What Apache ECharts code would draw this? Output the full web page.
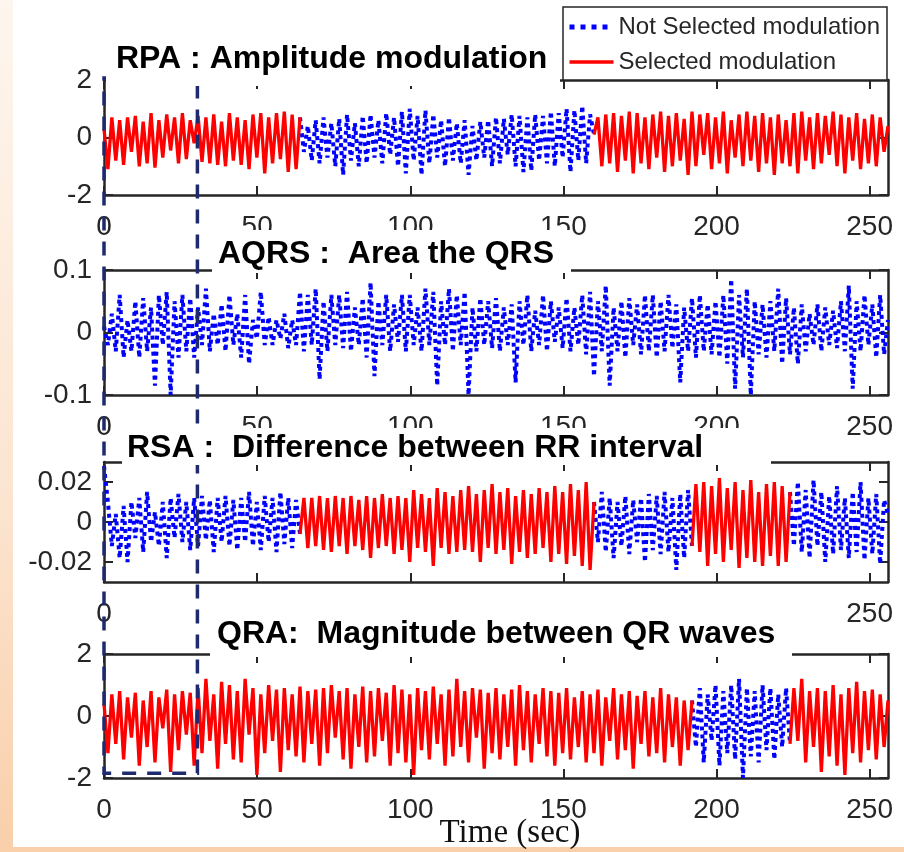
<!DOCTYPE html>
<html><head><meta charset="utf-8">
<script src="https://cdn.jsdelivr.net/npm/echarts@6/dist/echarts.min.js"></script>
<style>
html,body{margin:0;padding:0;width:904px;height:852px;overflow:hidden;background:linear-gradient(to bottom,#fdf6ee 0%,#fce4cf 60%,#f9cfaa 100%);}
#bg{position:absolute;left:13px;top:0;width:891px;height:847px;background:#fff;}
#chart{position:absolute;left:0;top:0;width:904px;height:852px;}
</style></head><body><div id="bg"></div><div id="chart"></div>
<script>
// ---------------- data ----------------
const sampleStep = 1.28; // seconds between samples (201 samples -> 0..256 s)
const xTickValues = [0, 50, 100, 150, 200, 250];
const legendNames = ['Not Selected modulation', 'Selected modulation'];
const panelTitles = ['RPA : Amplitude modulation', 'AQRS :  Area the QRS', 'RSA :  Difference between RR interval', 'QRA:  Magnitude between QR waves'];
const xAxisName = 'Time (sec)';
const windowSeconds = [0, 30.5];

const rpaYTicks = [-2, 0, 2];
const aqrsYTicks = [-0.1, 0, 0.1];
const rsaYTicks = [-0.02, 0, 0.02];
const qraYTicks = [-2, 0, 2];

const rpaSelected = [[0, 64], [160, 256]];
const aqrsSelected = [];
const rsaSelected = [[64, 160], [192, 224]];
const qraSelected = [[0, 192], [224, 256]];

const rpa = [
 0.3,-1.1,0.7,-0.8,0.6,-0.95,0.7,-0.5,0.75,-1.0,
 0.55,-0.9,0.85,-1.05,0.6,-0.7,0.8,-0.45,0.7,-0.9,
 0.85,-0.75,0.6,-0.2,0.75,-0.85,0.7,-0.9,0.8,-0.95,
 0.55,-1.0,0.85,-0.8,0.7,-0.95,0.6,-1.1,0.8,-0.7,
 0.85,-1.25,0.7,-0.9,0.85,-0.75,0.9,-1.2,0.8,-1.1,
 0.7,-0.5,0.4,-0.8,0.6,-0.9,0.7,-0.7,0.5,-1.0,
 0.65,-1.3,0.8,-0.8,0.5,-1.0,0.75,-0.9,0.8,-0.7,
 0.6,-0.9,0.85,-0.6,0.7,-1.0,0.9,-1.25,1.0,-0.8,
 0.75,-1.3,0.95,-0.9,0.8,-0.7,0.6,-1.0,0.7,-0.8,
 0.5,-0.9,0.6,-1.3,0.4,-0.8,0.55,-0.7,0.6,-1.0,
 0.7,-0.9,0.65,-0.6,0.8,-1.0,0.75,-1.2,0.7,-1.15,
 0.8,-0.8,0.75,-0.9,0.9,-1.0,0.85,-0.7,1.0,-1.2,
 0.95,-0.8,1.1,-0.9,0.8,0.1,0.7,-1.0,0.8,-0.9,
 0.85,-1.2,0.75,-0.8,0.9,-1.25,0.85,-0.9,0.7,-1.1,
 0.8,-0.7,0.9,-1.2,0.75,-1.0,0.85,-0.8,0.65,-1.3,
 0.9,-1.0,0.8,-0.6,0.85,-1.1,0.7,-0.9,0.9,-1.25,
 0.6,-0.7,0.8,-1.0,0.9,-0.8,0.75,-1.2,0.85,-0.9,
 0.7,-1.3,0.8,-0.9,0.6,-1.0,0.85,-1.25,0.9,-0.8,
 0.7,-1.1,0.85,-0.9,0.75,-0.6,0.9,-1.0,0.8,-1.25,
 0.7,-0.8,0.85,-1.1,0.65,-0.9,0.8,-1.0,0.7,-0.5,
 0.4
];
const aqrs = [
 0.01,-0.02,0.03,-0.03,0.06,-0.04,0.02,-0.03,0.05,-0.04,
 0.055,-0.03,0.04,-0.085,0.06,-0.02,0.065,-0.1,0.05,-0.04,
 0.06,-0.03,0.055,-0.04,0.04,-0.02,0.07,-0.03,0.03,-0.02,
 0.045,-0.03,0.06,-0.02,0.03,-0.04,0.06,-0.05,0.02,-0.01,
 0.065,-0.02,0.025,-0.02,0.02,-0.01,0.03,-0.025,0.02,-0.02,
 0.065,-0.03,0.06,-0.02,0.07,-0.075,0.05,-0.03,0.06,-0.02,
 0.06,-0.025,0.065,-0.03,0.04,-0.02,0.055,-0.04,0.08,-0.07,
 0.05,-0.02,0.06,-0.03,0.045,-0.015,0.06,-0.03,0.06,-0.02,
 0.04,-0.03,0.07,-0.02,0.065,-0.085,0.05,-0.02,0.07,-0.03,
 0.06,-0.02,0.065,-0.1,0.04,-0.03,0.055,-0.02,0.05,-0.025,
 0.055,-0.03,0.04,-0.02,0.045,-0.08,0.05,-0.02,0.06,-0.03,
 0.035,-0.02,0.06,-0.03,0.05,-0.015,0.04,-0.025,0.055,-0.03,
 0.04,-0.02,0.06,-0.035,0.065,-0.07,0.05,-0.03,0.075,-0.085,
 0.04,-0.03,0.05,-0.04,0.055,-0.02,0.045,-0.035,0.06,-0.03,
 0.06,-0.04,0.05,-0.03,0.06,-0.025,0.045,-0.08,0.04,-0.03,
 0.055,-0.04,0.06,-0.03,0.045,-0.035,0.05,-0.04,0.06,-0.05,
 0.085,-0.09,0.06,-0.04,0.07,-0.1,0.05,-0.035,0.045,-0.04,
 0.05,-0.03,0.07,-0.05,0.055,-0.035,0.04,-0.05,0.045,-0.03,
 0.03,-0.02,0.045,-0.03,0.04,-0.02,0.035,-0.025,0.05,-0.03,
 0.075,-0.09,0.05,-0.03,0.06,-0.02,0.045,-0.04,0.06,-0.035,
 0.02
];
const rsa = [
 0.028,0.01,-0.012,0.004,-0.018,0.008,-0.02,0.01,-0.008,0.012,
 -0.015,0.015,-0.01,0.005,-0.012,0.01,-0.018,0.012,-0.008,0.014,
 -0.01,0.01,-0.014,0.012,-0.012,0.013,-0.009,0.011,-0.015,0.012,
 -0.01,0.013,-0.012,0.011,-0.014,0.012,-0.01,0.015,-0.012,0.01,
 -0.014,0.013,-0.01,0.012,-0.015,0.015,-0.011,0.012,-0.013,0.011,
 -0.006,0.012,-0.013,0.012,-0.012,0.013,-0.014,0.012,-0.015,0.013,
 -0.012,0.012,-0.016,0.013,-0.012,0.011,-0.014,0.013,-0.018,0.012,
 -0.013,0.014,-0.012,0.012,-0.016,0.013,-0.014,0.012,-0.02,0.016,
 -0.013,0.014,-0.015,0.012,-0.022,0.017,-0.013,0.015,-0.016,0.013,
 -0.015,0.016,-0.014,0.018,-0.015,0.014,-0.02,0.016,-0.013,0.019,
 -0.016,0.015,-0.014,0.017,-0.021,0.013,-0.015,0.016,-0.018,0.014,
 -0.016,0.017,-0.013,0.015,-0.02,0.018,-0.016,0.015,-0.021,0.019,
 -0.017,0.016,-0.022,0.02,-0.024,0.01,-0.01,0.015,-0.015,0.012,
 -0.018,0.01,-0.012,0.013,-0.016,0.011,-0.01,0.012,-0.02,0.014,
 -0.014,0.013,-0.016,0.015,-0.015,0.012,-0.024,0.014,-0.018,0.016,
 -0.012,0.019,-0.015,0.02,-0.022,0.018,-0.016,0.022,-0.02,0.017,
 -0.014,0.02,-0.023,0.016,-0.018,0.021,-0.02,0.015,-0.022,0.019,
 -0.017,0.02,-0.022,0.018,-0.02,0.015,-0.012,0.02,-0.015,0.016,
 -0.018,0.021,-0.012,0.015,-0.02,0.013,-0.016,0.018,-0.014,0.012,
 -0.018,0.015,-0.015,0.02,-0.019,0.012,-0.016,0.014,-0.021,0.011,
 0.004
];
const qra = [
 0.4,-1.2,0.7,-0.9,0.8,-1.4,0.6,-0.7,0.75,-1.6,
 0.5,-1.0,0.8,-1.5,0.6,-0.4,0.85,-1.8,0.7,-1.1,
 0.8,-0.6,0.75,-1.6,0.9,-1.2,1.2,-0.8,0.7,-1.7,
 1.1,-0.9,1.0,-1.4,0.8,-1.5,1.2,-0.6,0.9,-1.9,
 0.7,-1.2,1.0,-0.8,0.85,-1.8,0.9,-1.1,0.7,-1.3,
 0.95,-1.5,0.8,-0.9,0.85,-1.6,0.9,-1.2,1.0,-0.7,
 0.8,-1.4,0.9,-1.7,0.7,-1.0,0.95,-1.5,0.8,-1.3,
 0.9,-0.8,0.75,-1.6,1.0,-1.2,0.85,-1.5,0.7,-1.9,
 0.9,-1.1,0.8,-1.4,0.95,-0.9,0.7,-1.6,0.85,-1.3,
 1.2,-1.0,0.8,-1.5,0.9,-0.7,0.85,-1.7,0.75,-1.2,
 0.9,-1.4,0.7,-1.0,0.85,-1.6,1.0,-1.1,0.8,-1.5,
 0.7,-0.9,0.9,-1.3,0.8,-1.6,0.75,-1.2,0.9,-1.4,
 0.6,-1.0,0.8,-1.5,0.7,-1.2,0.85,-1.6,0.6,-0.8,
 0.9,-1.4,0.7,-1.1,0.8,-1.7,0.65,-0.9,0.8,-1.3,
 0.6,-1.2,0.9,-1.5,0.7,-1.0,0.6,-1.6,0.5,-1.1,
 0.5,-1.0,0.9,-1.5,0.7,-0.8,1.0,-1.6,0.8,-1.2,
 1.0,-1.4,1.2,-2.0,0.9,-1.3,0.8,-1.5,1.0,-1.1,
 0.9,-1.4,0.7,-1.0,0.9,-0.9,0.9,-0.8,1.2,-1.5,
 0.8,-1.0,0.9,-1.8,0.8,-1.3,1.0,-1.6,0.7,-1.9,
 0.9,-1.2,1.1,-1.5,0.8,-1.1,0.85,-1.4,0.7,-1.0,
 0.5
];

// ---------------- layout / style ----------------
const FRAME = '#262626';
const RED = '#ff0000', BLUE = '#0000ff', NAVY = '#1f2a6e';
const SANS = '"Liberation Sans", Arial, Helvetica, sans-serif';
const TITLE_FONT_SIZE = 32;
const RED_LINE = {color: RED, width: 3.3};
const BLUE_LINE = {color: BLUE, width: 4, type: [4, 4], cap: 'butt'};
const panels = [
  {values: rpa, selected: rpaSelected, yTicks: rpaYTicks, min: -2, max: 2, top: 80, height: 115,
   box: {l: 106, t: 36, r: 560, b: 86}, textLeft: 116, textMid: 59},
  {values: aqrs, selected: aqrsSelected, yTicks: aqrsYTicks, min: -0.1, max: 0.1, top: 270, height: 125,
   box: {l: 212, t: 230, r: 571, b: 273}, textLeft: 218, textMid: 254},
  {values: rsa, selected: rsaSelected, yTicks: rsaYTicks, min: -0.03, max: 0.03, top: 462, height: 120,
   box: {l: 122, t: 428, r: 771, b: 465}, textLeft: 127, textMid: 448},
  {values: qra, selected: qraSelected, yTicks: qraYTicks, min: -2, max: 2, top: 654, height: 124,
   box: {l: 210, t: 600, r: 792, b: 657}, textLeft: 217, textMid: 634}
];
const GRID_LEFT = 104, GRID_RIGHT = 16;
const X_MAX = (rpa.length - 1) * sampleStep;

const measureCtx = document.createElement('canvas').getContext('2d');
function textWidth(s, font) { measureCtx.font = font; return measureCtx.measureText(s).width; }

function buildSegments(sel) {
  const out = []; let cur = 0;
  sel.forEach(([a, b]) => { if (a > cur) out.push([cur, a, false]); out.push([a, b, true]); cur = b; });
  if (cur < X_MAX) out.push([cur, X_MAX, false]);
  return out;
}

const grid = [], xAxis = [], yAxis = [], series = [], title = [];
panels.forEach((p, g) => {
  grid.push({left: GRID_LEFT, right: GRID_RIGHT, top: p.top, height: p.height, containLabel: false, outerBoundsMode: 'none'});
  const axisLine = {show: true, onZero: false, lineStyle: {color: FRAME, width: 2.5}};
  const tick = (vals) => ({show: true, inside: true, length: 9, customValues: vals, lineStyle: {color: FRAME, width: 2}});
  const isLast = g === panels.length - 1;
  xAxis.push({gridIndex: g, type: 'value', min: 0, max: X_MAX, position: 'bottom', axisLine,
    axisTick: tick(xTickValues), splitLine: {show: false},
    axisLabel: {customValues: xTickValues, fontSize: 28, color: FRAME, fontFamily: SANS, margin: 18},
    name: isLast ? xAxisName : '', nameLocation: 'middle', nameGap: 39, nameMoveOverlap: false,
    nameTextStyle: {fontFamily: '"Liberation Serif", "DejaVu Serif", serif', fontSize: 33, color: '#111', padding: [0, 0, 0, 28]}});
  xAxis.push({gridIndex: g, type: 'value', min: 0, max: X_MAX, position: 'top', axisLine,
    axisTick: tick(xTickValues), axisLabel: {show: false}, splitLine: {show: false}});
  yAxis.push({gridIndex: g, type: 'value', min: p.min, max: p.max, position: 'left', axisLine,
    axisTick: tick(p.yTicks), splitLine: {show: false},
    axisLabel: {customValues: p.yTicks, fontSize: 28, color: FRAME, fontFamily: SANS, margin: 12}});
  yAxis.push({gridIndex: g, type: 'value', min: p.min, max: p.max, position: 'right', axisLine,
    axisTick: tick(p.yTicks), axisLabel: {show: false}, splitLine: {show: false}});

  const pts = p.values.map((v, i) => [i * sampleStep, v]);
  buildSegments(p.selected).forEach(([a, b, sel]) => {
    series.push({
      type: 'line', name: sel ? legendNames[1] : legendNames[0],
      xAxisIndex: 2 * g, yAxisIndex: 2 * g,
      data: pts.filter(d => d[0] >= a - 1e-6 && d[0] <= b + 1e-6),
      symbol: 'none', showSymbol: false, smooth: false, z: sel ? 3 : 2,
      itemStyle: {color: sel ? RED : BLUE},
      lineStyle: sel ? RED_LINE : BLUE_LINE
    });
  });

  const tf = 'bold ' + TITLE_FONT_SIZE + 'px ' + SANS;
  const w = textWidth(panelTitles[g], tf);
  const lh = 34;
  title.push({
    text: panelTitles[g], left: p.box.l, top: p.box.t, z: 10,
    backgroundColor: '#fff',
    padding: [p.textMid - lh / 2 - p.box.t, Math.max(0, p.box.r - (p.textLeft + w)), Math.max(0, p.box.b - (p.textMid + lh / 2)), p.textLeft - p.box.l],
    textStyle: {fontSize: TITLE_FONT_SIZE, fontWeight: 'bold', fontFamily: SANS, color: '#000', lineHeight: lh}
  });
});

const chart = echarts.init(document.getElementById('chart'), null, {renderer: 'canvas'});
chart.setOption({
  animation: false,
  backgroundColor: 'transparent',
  title, grid, xAxis, yAxis, series,
  legend: {
    data: [
      {name: legendNames[0], lineStyle: {color: BLUE, width: 5, type: [5, 6], cap: 'butt'}},
      {name: legendNames[1], lineStyle: {color: RED, width: 3.3}}
    ],
    orient: 'vertical', left: 563, top: 7, z: 10,
    padding: [6, 7, 4, 4], itemGap: 7, itemWidth: 44, itemHeight: 14,
    itemStyle: {opacity: 0},
    backgroundColor: '#fff', borderColor: FRAME, borderWidth: 1.5, borderRadius: 0,
    textStyle: {fontSize: 24, color: FRAME, fontFamily: SANS, lineHeight: 28},
    selectedMode: false
  }
});

// dashed selection window (0..30.5 s) spanning all panels
const topPt = chart.convertToPixel({xAxisIndex: 0, yAxisIndex: 0}, [windowSeconds[0], panels[0].max]);
const botPt = chart.convertToPixel({xAxisIndex: 6, yAxisIndex: 6}, [windowSeconds[1], -1.85]);
chart.setOption({
  graphic: [{
    type: 'rect', z: 5, silent: true,
    shape: {x: topPt[0], y: topPt[1] - 2, width: botPt[0] - topPt[0], height: botPt[1] - topPt[1] + 2},
    style: {fill: 'none', stroke: NAVY, lineWidth: 3.5, lineDash: [14, 11]}
  }]
});
</script></body></html>
